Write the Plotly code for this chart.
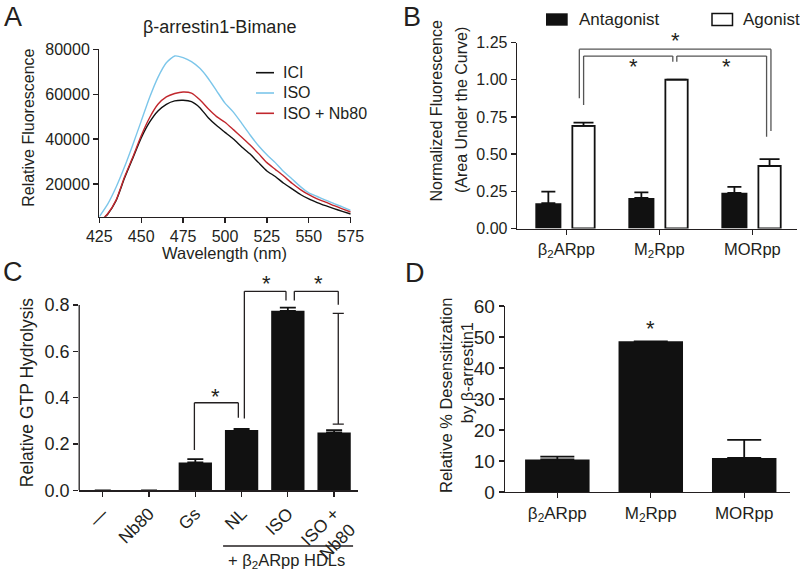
import plotly.graph_objects as go

FONT = "Arial, 'Liberation Sans', Helvetica, sans-serif"
INK = "#231f20"
W, H = 800, 577

# ---------------- Panel A data: emission spectra ----------------
wavelength = [425, 430, 435, 440, 445, 450, 455, 460, 465, 470, 475, 480, 485, 490, 495, 500,
              505, 510, 515, 520, 525, 530, 535, 540, 545, 550, 555, 560, 565, 570, 575]
ici = [3000, 6500, 12500, 22500, 31500, 40500, 47500, 52500, 55500, 57000, 57300, 56700, 54000,
       49500, 46000, 43000, 40000, 36500, 33300, 29500, 25800, 23300, 20300, 17800, 15300, 13300,
       11700, 10300, 9000, 7800, 6600]
iso = [5400, 11000, 18500, 27500, 37500, 48000, 58500, 67500, 74000, 77000, 76300, 74500, 71500,
       67000, 61500, 56000, 52000, 47000, 41800, 37000, 33000, 29500, 25500, 22200, 18800, 16000,
       14400, 12800, 11200, 9800, 8200]
iso_nb80 = [3000, 6700, 12800, 23000, 32000, 41500, 49500, 55500, 58800, 60300, 61000, 60500,
            57500, 53500, 50000, 47500, 44200, 40800, 37300, 33500, 29500, 26500, 23500, 20300,
            17500, 15200, 13300, 11900, 10300, 8900, 7500]
a_names = ["ICI", "ISO", "ISO + Nb80"]
a_series = [ici, iso, iso_nb80]
a_colors = ["#111111", "#7cc6ea", "#c1272d"]

# ---------------- Panel B data ----------------
b_categories = ["β<sub>2</sub>ARpp", "M<sub>2</sub>Rpp", "MORpp"]
b_antagonist = [0.17, 0.205, 0.24]
b_antagonist_err = [0.078, 0.038, 0.04]
b_agonist = [0.69, 1.00, 0.42]
b_agonist_err = [0.022, None, 0.046]

# ---------------- Panel C data ----------------
c_categories = ["—", "Nb80", "Gs", "NL", "ISO", "ISO +<br>Nb80"]
c_values = [0, 0, 0.12, 0.26, 0.775, 0.25]
c_err = [None, None, 0.015, 0.005, 0.014, 0.01]

# ---------------- Panel D data ----------------
d_categories = ["β<sub>2</sub>ARpp", "M<sub>2</sub>Rpp", "MORpp"]
d_values = [10.5, 48.6, 11.0]
d_err = [0.9, None, 5.8]


def px(x):
    return x / W


def py(y):
    return 1 - y / H


fig = go.Figure()

# Panel A traces
for name, ys, col in zip(a_names, a_series, a_colors):
    fig.add_trace(go.Scatter(x=wavelength, y=ys, mode="lines", name=name,
                             line=dict(color=col, width=1.4, shape="spline", smoothing=0.6),
                             xaxis="x", yaxis="y", showlegend=False))

# Panel B traces
fig.add_trace(go.Bar(x=b_categories, y=b_antagonist, name="Antagonist", xaxis="x2", yaxis="y2",
                     marker=dict(color="#111111", line=dict(width=0)), width=0.28, offset=-0.333,
                     error_y=dict(type="data", array=b_antagonist_err, arrayminus=[0] * 3,
                                  symmetric=False, color="#111111", thickness=1.8, width=7),
                     showlegend=False))
fig.add_trace(go.Bar(x=b_categories, y=b_agonist, name="Agonist", xaxis="x2", yaxis="y2",
                     marker=dict(color="white", line=dict(width=1.8, color="#111111")),
                     width=0.24, offset=0.065,
                     error_y=dict(type="data", array=b_agonist_err, arrayminus=[0] * 3,
                                  symmetric=False, color="#111111", thickness=1.8, width=10),
                     showlegend=False))

# Panel C traces
fig.add_trace(go.Bar(x=c_categories, y=c_values, xaxis="x3", yaxis="y3", width=0.72,
                     marker=dict(color="#111111", line=dict(width=0)),
                     error_y=dict(type="data", array=c_err, arrayminus=[0] * 6, symmetric=False,
                                  color="#111111", thickness=1.8, width=8),
                     showlegend=False))

# Panel D traces
fig.add_trace(go.Bar(x=d_categories, y=d_values, xaxis="x4", yaxis="y4", width=0.69,
                     marker=dict(color="#111111", line=dict(width=0)),
                     error_y=dict(type="data", array=d_err, arrayminus=[0] * 3, symmetric=False,
                                  color="#111111", thickness=1.8, width=17),
                     showlegend=False))


def axis_style(size=16):
    return dict(showline=True, linecolor=INK, linewidth=1.3, ticks="outside", ticklen=5,
                tickwidth=1.3, tickcolor=INK, showgrid=False, zeroline=False,
                tickfont=dict(size=size, color=INK, family=FONT), fixedrange=True)


fig.update_layout(
    width=W, height=H, autosize=False,
    margin=dict(l=0, r=0, t=0, b=0, autoexpand=False),
    paper_bgcolor="white", plot_bgcolor="white",
    font=dict(family=FONT, color=INK, size=16),
    barmode="overlay",
    xaxis=dict(domain=[px(99.3), px(350.7)], range=[425, 575], tickvals=list(range(425, 576, 25)),
               anchor="y", **axis_style(16)),
    yaxis=dict(domain=[py(216.7), py(49.3)], range=[5400, 80000],
               tickvals=[20000, 40000, 60000, 80000], tickformat="d", anchor="x", **axis_style(16)),
    xaxis2=dict(domain=[px(517), px(797)], range=[-0.53, 2.48], anchor="y2", type="category",
                **axis_style(16.5)),
    yaxis2=dict(domain=[py(228.5), py(42.5)], range=[0, 1.25],
                tickvals=[0, 0.25, 0.5, 0.75, 1.0, 1.25], tickformat=".2f", anchor="x2",
                **axis_style(16)),
    xaxis3=dict(domain=[px(79.2), px(357.7)], range=[-0.51, 5.51], anchor="y3", type="category",
                tickangle=-45, **axis_style(17.5)),
    yaxis3=dict(domain=[py(490.3), py(286.5)], range=[0, 0.88],
                tickvals=[0, 0.2, 0.4, 0.6, 0.8], tickformat=".1f", anchor="x3",
                **{**axis_style(18), "showline": False}),
    xaxis4=dict(domain=[px(505), px(790)], range=[-0.56, 2.49], anchor="y4", type="category",
                **axis_style(17)),
    yaxis4=dict(domain=[py(492), py(306)], range=[0, 60], tickvals=[0, 10, 20, 30, 40, 50, 60],
                anchor="x4", **axis_style(19)),
)

shapes = []
ann = []


def line(x0, y0, x1, y1, xref, yref, color=INK, width=1.3):
    shapes.append(dict(type="line", x0=x0, y0=y0, x1=x1, y1=y1, xref=xref, yref=yref,
                       line=dict(color=color, width=width)))


def text(x, y, s, xref="paper", yref="paper", size=16, angle=0, xanchor="center",
         yanchor="middle", **kw):
    ann.append(dict(x=x, y=y, text=s, xref=xref, yref=yref, showarrow=False, textangle=angle,
                    xanchor=xanchor, yanchor=yanchor, font=dict(size=size, color=INK, family=FONT),
                    **kw))


def star(x, y, xref, yref, lift=0.0):
    # y is a point inside the axis range; lift raises the glyph by that many pixels
    text(x, y, "*", xref=xref, yref=yref, size=22, yshift=-2 + lift)


# Panel letters
text(px(12.5), py(17), "A", size=27)
text(px(412), py(17), "B", size=27)
text(px(12.5), py(272), "C", size=27)
text(px(415), py(273), "D", size=27)

# Panel A labels
text(px(219), py(26.5), "β-arrestin1-Bimane", size=18)
text(px(28.3), py(127.5), "Relative Fluorescence", angle=-90)
text(px(224.5), py(253), "Wavelength (nm)", size=16.5)
for i, (name, col) in enumerate(zip(a_names, a_colors)):
    yy = 72.7 + i * 20.3
    line(px(256), py(yy), px(274), py(yy), "paper", "paper", color=col, width=1.6)
    text(px(281), py(yy), name, xanchor="left")

# Panel B labels, legend, brackets
text(px(436), py(110.5), "Normalized Fluorescence", angle=-90)
text(px(461.5), py(110.5), "(Area Under the Curve)", angle=-90)
shapes.append(dict(type="rect", x0=px(546), x1=px(567.7), y0=py(25.7), y1=py(13.3), xref="paper",
                   yref="paper", fillcolor="#111111", line=dict(width=0)))
text(px(577), py(19.5), "Antagonist", xanchor="left", size=17)
shapes.append(dict(type="rect", x0=px(712), x1=px(732.5), y0=py(25.5), y1=py(13.5), xref="paper",
                   yref="paper", fillcolor="white", line=dict(width=1.5, color="#111111")))
text(px(741), py(19.5), "Agonist", xanchor="left", size=17)

BR = "#555555"
for pts in ([(0.14, 0.875), (0.14, 1.205), (2.2, 1.205), (2.2, 0.655)],
            [(0.186, 0.83), (0.186, 1.159), (1.145, 1.159), (1.145, 1.12)],
            [(1.188, 1.12), (1.188, 1.159), (2.153, 1.159), (2.153, 0.617)]):
    for (xa, ya), (xb, yb) in zip(pts[:-1], pts[1:]):
        line(xa, ya, xb, yb, "x2", "y2", color=BR, width=1.3)
star(1.17, 1.205, "x2", "y2", lift=11)
star(0.72, 1.10, "x2", "y2")
star(1.72, 1.10, "x2", "y2")

# Panel C labels and brackets
text(px(26.7), py(392.5), "Relative GTP Hydrolysis", angle=-90, size=17.5)
line(0, 0, 0, 0.8, "x3 domain", "y3", width=1.3)
for pts in ([(1.98, 0.174), (1.98, 0.378), (2.93, 0.378), (2.93, 0.313)],
            [(3.06, 0.31), (3.06, 0.859), (3.96, 0.859), (3.96, 0.82)],
            [(4.14, 0.82), (4.14, 0.859), (5.09, 0.859), (5.09, 0.801)]):
    for (xa, ya), (xb, yb) in zip(pts[:-1], pts[1:]):
        line(xa, ya, xb, yb, "x3", "y3", width=1.3)
line(5.09, 0.286, 5.09, 0.764, "x3", "y3", width=1.3)
line(4.97, 0.286, 5.21, 0.286, "x3", "y3", width=1.3)
line(4.97, 0.764, 5.21, 0.764, "x3", "y3", width=1.3)
star(2.44, 0.414, "x3", "y3")
star(3.54, 0.859, "x3", "y3", lift=9.5)
star(4.67, 0.859, "x3", "y3", lift=9.5)
text(5.59, 0.53, "% Desensitization", xref="x3", yref="y3", angle=90)
line(2.6, py(546), 5.41, py(546), "x3", "paper", width=1.3)
text(3.98, py(561), "+ β<sub>2</sub>ARpp HDLs", xref="x3", yref="paper", size=16.5)

# Panel D labels
text(px(446.7), py(395.3), "Relative % Desensitization", angle=-90, size=16.5)
text(px(466.7), py(372.5), "by β-arrestin1", angle=-90, size=16.5)
star(1, 53.3, "x4", "y4")

fig.update_layout(shapes=shapes, annotations=ann)
fig.write_html("out.html", config={"displayModeBar": False, "staticPlot": True},
               post_script="document.body.style.margin='0';"
                           "document.body.style.overflow='hidden';")
